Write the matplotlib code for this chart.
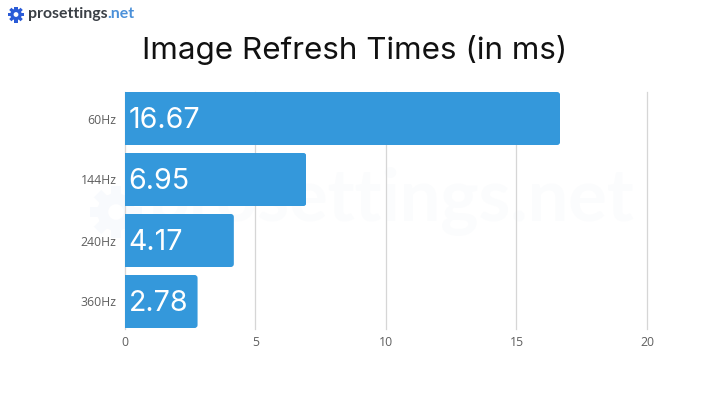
import numpy as np
import matplotlib
matplotlib.use("Agg")
import matplotlib.pyplot as plt
from matplotlib.patches import FancyBboxPatch, Circle, Rectangle
from matplotlib.transforms import Affine2D

categories = ["60Hz", "144Hz", "240Hz", "360Hz"]
values = [16.67, 6.95, 4.17, 2.78]
value_labels = ["16.67", "6.95", "4.17", "2.78"]
x_ticks = [0, 5, 10, 15, 20]

W, H = 720, 405
fig = plt.figure(figsize=(W / 100, H / 100), dpi=100, facecolor="white")
plt.rcParams["font.family"] = "Inter"


def px_axes(l, t, r, b):
    return [l / W, 1 - b / H, (r - l) / W, (b - t) / H]


def gear(cx, cy, r, color, z):
    fa = fig.add_axes([0, 0, 1, 1], zorder=z)
    fa.set_xlim(0, W); fa.set_ylim(H, 0); fa.axis("off"); fa.patch.set_alpha(0)
    fa.add_patch(Circle((cx, cy), r * 0.72, color=color, lw=0))
    for a in np.arange(0, 360, 45):
        t = Affine2D().rotate_deg_around(cx, cy, a) + fa.transData
        fa.add_patch(Rectangle((cx - r * 0.2, cy - r), r * 0.4, r * 0.5, color=color, lw=0, transform=t))
    fa.add_patch(Circle((cx, cy), r * 0.3, color="white", lw=0))


# watermark
gear(116, 212, 26, "#f8fafd", 0)
fig.text(391 / W, 1 - 201 / H, "prosettings.net", fontsize=52, family="Lato", weight="bold",
         color="#fbfcfd", ha="center", va="center", zorder=0)

gear(16, 14.5, 8, "#2a5bd7", 5)
t1 = fig.text(28 / W, 1 - 14 / H, "prosettings", fontsize=11.4, family="Lato", weight="bold",
              color="#3a3f45", ha="left", va="center")
fig.canvas.draw()
bb = t1.get_window_extent()
fig.text((bb.x1 - 0.5) / W, 1 - 14 / H, ".net", fontsize=11.4, family="Lato", weight="bold",
         color="#4a90d9", ha="left", va="center")

fig.text(355 / W, 1 - 50 / H, "Image Refresh Times (in ms)", fontsize=22.6, color="#111111",
         ha="center", va="center")

ax = fig.add_axes(px_axes(125, 92, 647, 329), zorder=2)
ax.patch.set_alpha(0)
ypos = np.arange(len(categories))
ax.set_xlim(0, 20)
ax.set_ylim(3 + 27.5 / 61, -26.5 / 61)
ax.set_axisbelow(True)
ax.grid(axis="x", color="#d6d6d6", lw=0.9, clip_on=False)
ax.grid(axis="y", visible=False)
for s in ax.spines.values():
    s.set_visible(False)

bars = ax.barh(ypos, values, height=53 / 61, color="#3498db", lw=0, zorder=3)
xr = 3 / 26.1       # corner radius in x units
yr = 3 / 61         # corner radius in y units
for bar, lab in zip(bars, value_labels):
    x0, y0, w, h = bar.get_x(), bar.get_y(), bar.get_width(), bar.get_height()
    clip = FancyBboxPatch((x0 - 1, y0 + yr), w + 1 - xr, h - 2 * yr,
                          boxstyle=f"round,pad={xr},rounding_size={xr}",
                          mutation_aspect=yr / xr, transform=ax.transData)
    bar.set_clip_path(clip)
    ax.text(0.13, y0 + h / 2 + 0.03, lab, color="white", fontsize=20.6, ha="left", va="center", zorder=4)

ax.set_yticks(ypos, categories, family="Open Sans")
ax.set_xticks(x_ticks, [str(v) for v in x_ticks], family="Open Sans")
ax.tick_params(axis="both", length=0, labelsize=8.8, labelcolor="#5f5f5f")
ax.tick_params(axis="y", pad=6)
ax.tick_params(axis="x", pad=5)
for line in ax.get_xgridlines():
    line.set_clip_on(False)

fig.savefig("out.png", dpi=100)
